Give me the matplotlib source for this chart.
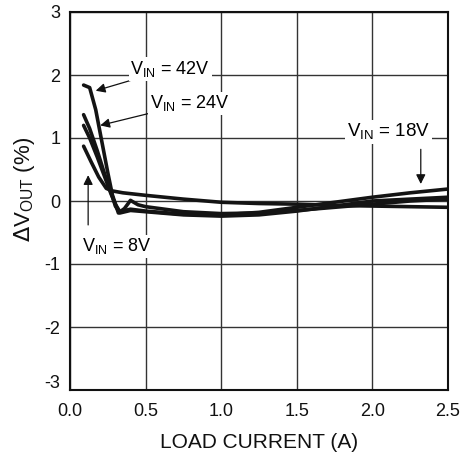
import matplotlib
matplotlib.use("Agg")
import matplotlib.pyplot as plt
from matplotlib.transforms import ScaledTranslation

plt.rcParams['font.family'] = ['Liberation Sans', 'DejaVu Sans']

# Data
x_42 = [0.09, 0.13, 0.17, 0.21, 0.25, 0.28, 0.32, 0.36, 0.40, 0.45, 0.5, 0.75, 1.0, 1.25, 1.5, 1.75, 2.0, 2.25, 2.5]
y_42 = [1.84, 1.80, 1.45, 0.95, 0.45, 0.10, -0.19, -0.12, 0.01, -0.06, -0.09, -0.17, -0.20, -0.19, -0.15, -0.10, -0.05, 0.0, 0.03]

x_24 = [0.09, 0.13, 0.18, 0.23, 0.27, 0.30, 0.33, 0.40, 0.5, 0.75, 1.0, 1.25, 1.5, 1.75, 2.0, 2.25, 2.5]
y_24 = [1.37, 1.15, 0.80, 0.42, 0.15, -0.08, -0.19, -0.15, -0.17, -0.22, -0.24, -0.22, -0.16, -0.08, 0.0, 0.03, 0.06]

x_18 = [0.09, 0.13, 0.18, 0.23, 0.27, 0.30, 0.33, 0.40, 0.5, 0.75, 1.0, 1.25, 1.5, 1.75, 2.0, 2.25, 2.5]
y_18 = [1.20, 1.00, 0.70, 0.38, 0.12, -0.05, -0.17, -0.13, -0.16, -0.21, -0.22, -0.18, -0.10, -0.02, 0.06, 0.13, 0.19]

x_8 = [0.09, 0.14, 0.19, 0.24, 0.28, 0.35, 0.5, 0.75, 1.0, 1.25, 1.5, 1.75, 2.0, 2.25, 2.5]
y_8 = [0.87, 0.62, 0.38, 0.20, 0.16, 0.13, 0.09, 0.03, -0.02, -0.04, -0.05, -0.07, -0.08, -0.09, -0.10]

x_ticks = [0.0, 0.5, 1.0, 1.5, 2.0, 2.5]
x_ticklabels = ["0.0", "0.5", "1.0", "1.5", "2.0", "2.5"]
y_ticks = [-3, -2, -1, 0, 1, 2, 3]
y_ticklabels = ["-3", "-2", "-1", "0", "1", "2", "3"]

fig = plt.figure(figsize=(4.67, 4.58), dpi=100)
ax = fig.add_axes([70/467, 1-390/458, (448-70)/467, (390-12)/458])

ax.set_xlim(0, 2.5)
ax.set_ylim(-3, 3)
ax.set_xticks(x_ticks)
ax.set_xticklabels(x_ticklabels)
ax.set_yticks(y_ticks)
ax.set_yticklabels(y_ticklabels)
ax.tick_params(length=0, labelsize=13, colors='#111111')
ax.tick_params(axis='x', pad=9)
ax.tick_params(axis='y', pad=7)
# raise the bottom y label slightly (as in the reference, to clear "0.0")
lbl = ax.get_yticklabels()[0]
lbl.set_transform(lbl.get_transform() + ScaledTranslation(0, 8/100, fig.dpi_scale_trans))

ax.grid(True, color='#333333', linewidth=1.0)
ax.set_axisbelow(True)
for s in ax.spines.values():
    s.set_linewidth(1.5)
    s.set_color('#111111')

lc = '#141414'
lw = 2.6
for xs, ys in [(x_42, y_42), (x_24, y_24), (x_18, y_18), (x_8, y_8)]:
    ax.plot(xs, ys, color=lc, linewidth=lw, solid_capstyle='round', solid_joinstyle='round')

ax.set_xlabel("LOAD CURRENT (A)", fontsize=15, color='#111111', labelpad=10)
ax.set_ylabel(r"$\Delta$V$_{\mathregular{OUT}}$ (%)", fontsize=16, color='#111111')
ax.yaxis.set_label_coords(-(70 - 37) / 378, 0.53)

ap = dict(arrowstyle='-|>', color='#111111', lw=0.9, mutation_scale=14, shrinkA=0, shrinkB=0)
bb = dict(boxstyle='square,pad=0.1', fc='white', ec='none')
ax.annotate(r"V$_{\mathregular{IN}}$ = 42V", xy=(0.17, 1.75), xytext=(0.40, 2.1),
            fontsize=13, va='center', ha='left', arrowprops=ap, bbox=bb)
ax.annotate(r"V$_{\mathregular{IN}}$ = 24V", xy=(0.2, 1.2), xytext=(0.53, 1.55),
            fontsize=13, va='center', ha='left', arrowprops=ap, bbox=bb)
ax.annotate(r"V$_{\mathregular{IN}}$ = 18V", xy=(2.32, 0.29), xytext=(1.83, 1.1),
            fontsize=13.5, va='center', ha='left', bbox=bb)
ax.annotate("", xy=(2.32, 0.27), xytext=(2.32, 0.82), arrowprops=ap)
ax.annotate(r"V$_{\mathregular{IN}}$ = 8V", xy=(0.12, 0.41), xytext=(0.08, -0.72),
            fontsize=13, va='center', ha='left', bbox=bb)
ax.annotate("", xy=(0.12, 0.41), xytext=(0.12, -0.38), arrowprops=ap)

fig.savefig("out.png", dpi=100)
